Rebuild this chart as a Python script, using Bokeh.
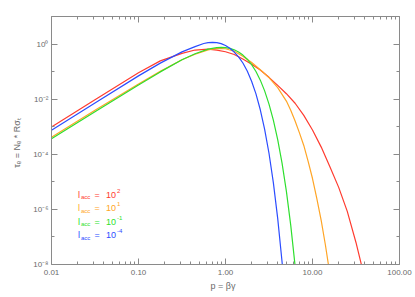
from bokeh.plotting import figure
from bokeh.models import Range1d, FixedTicker, LogAxis, CustomJSTickFormatter, Label
from bokeh.embed import file_html
from bokeh.resources import INLINE

# ---- data ----
p_red = [0.01, 0.0316, 0.1, 0.178, 0.316, 0.447, 0.631, 0.794, 1.0, 1.26, 1.58, 2.0, 2.51,
         3.16, 3.98, 5.01, 6.31, 7.94, 10.0, 12.6, 15.8, 20.0, 25.1, 31.6, 39.8]
tau_red = [9.8e-4, 9.5e-3, 0.091, 0.245, 0.461, 0.607, 0.655, 0.603, 0.525, 0.417, 0.288, 0.186, 0.115,
           0.0620, 0.0315, 0.0158, 7.1e-3, 2.57e-3, 7.6e-4, 1.82e-4, 3.6e-5, 6.3e-6, 8.5e-7, 6.3e-8, 3.2e-9]

p_orange = [0.01, 0.0316, 0.1, 0.178, 0.316, 0.447, 0.631, 0.794, 1.0, 1.26, 1.58, 2.0, 2.51,
            3.16, 3.98, 5.01, 5.62, 6.31, 7.08, 7.94, 8.91, 10.0, 11.2, 12.6, 14.1, 15.8]
tau_orange = [4.17e-4, 3.98e-3, 0.0355, 0.102, 0.269, 0.427, 0.617, 0.700, 0.676, 0.550, 0.363, 0.214, 0.117,
              0.0603, 0.0263, 8.5e-3, 3.98e-3, 1.62e-3, 6.0e-4, 2.09e-4, 5.5e-5, 1.32e-5, 2.5e-6, 3.9e-7, 4.9e-8, 4.7e-9]

p_green = [0.01, 0.0316, 0.1, 0.178, 0.316, 0.447, 0.631, 0.794, 0.891, 1.0, 1.122, 1.259, 1.413, 1.585,
           1.778, 1.995, 2.239, 2.512, 2.818, 3.162, 3.548, 3.981, 4.467, 5.012, 5.623, 6.310, 6.607]
tau_green = [3.63e-4, 3.47e-3, 0.0324, 0.0977, 0.269, 0.447, 0.656, 0.746, 0.760, 0.745, 0.697, 0.618, 0.515, 0.398,
             0.281, 0.179, 0.1005, 0.049, 0.020, 6.6e-3, 1.74e-3, 3.39e-4, 4.8e-5, 4.5e-6, 2.63e-7, 8.9e-9, 1.9e-9]

p_blue = [0.01, 0.0316, 0.1, 0.178, 0.316, 0.447, 0.562, 0.631, 0.708, 0.794, 0.891, 1.0, 1.122, 1.259,
          1.413, 1.585, 1.778, 1.995, 2.239, 2.512, 2.818, 3.162, 3.548, 3.981, 4.467, 4.677]
tau_blue = [7.4e-4, 7.3e-3, 0.070, 0.203, 0.521, 0.804, 1.047, 1.122, 1.148, 1.122, 1.035, 0.891, 0.708, 0.512,
            0.344, 0.205, 0.105, 0.0449, 0.0155, 4.12e-3, 8.05e-4, 1.09e-4, 9.4e-6, 4.7e-7, 1.26e-8, 2.3e-9]

series_colors = ["#ff3b2f", "#ffa526", "#2edf2e", "#2b4cff"]
series_exponents = ["2", "1", "-1", "-4"]

x_ticks = [0.01, 0.1, 1.0, 10.0, 100.0]
x_tick_labels = ["0.01", "0.10", "1.00", "10.00", "100.00"]
x_minor = [0.02, 0.03, 0.04, 0.05, 0.06, 0.07, 0.08, 0.09,
           0.2, 0.3, 0.4, 0.5, 0.6, 0.7, 0.8, 0.9,
           2, 3, 4, 5, 6, 7, 8, 9,
           20, 30, 40, 50, 60, 70, 80, 90]
y_ticks = [1e-8, 1e-6, 1e-4, 1e-2, 1.0]
y_tick_labels = ["10\u207b\u2078", "10\u207b\u2076", "10\u207b\u2074", "10\u207b\u00b2", "10\u2070"]
y_minor = [1e-7, 1e-5, 1e-3, 1e-1, 10.0]

FONT = "Liberation Sans"
AX = "#8a8a8a"
TXT = "#6a6a6a"

p = figure(width=415, height=297, x_axis_type="log", y_axis_type="log",
           x_range=Range1d(0.01, 100), y_range=Range1d(1e-8, 10),
           output_backend="svg", toolbar_location=None,
           min_border_left=51, min_border_right=16, min_border_top=16, min_border_bottom=33)
p.grid.visible = False
p.outline_line_color = None
p.background_fill_color = "white"
p.border_fill_color = "white"

lookup = """
const i = tvals.findIndex(t => Math.abs(Math.log10(t) - Math.log10(tick)) < 1e-6);
return i >= 0 ? tlabels[i] : '';
"""
xt = FixedTicker(ticks=x_ticks, minor_ticks=x_minor)
yt = FixedTicker(ticks=y_ticks, minor_ticks=y_minor)
xfmt = CustomJSTickFormatter(args=dict(tvals=x_ticks, tlabels=x_tick_labels), code=lookup)
yfmt = CustomJSTickFormatter(args=dict(tvals=y_ticks, tlabels=y_tick_labels), code=lookup)
blank = CustomJSTickFormatter(code="return '';")


def style(ax):
    ax.axis_line_color = AX
    ax.major_tick_line_color = AX
    ax.minor_tick_line_color = AX
    ax.major_tick_in = 6
    ax.major_tick_out = 0
    ax.minor_tick_in = 3
    ax.minor_tick_out = 0
    ax.major_label_text_font = FONT
    ax.major_label_text_font_size = "8px"
    ax.major_label_text_color = TXT


p.xaxis.ticker = xt
p.xaxis.formatter = xfmt
p.yaxis.ticker = yt
p.yaxis.formatter = yfmt
style(p.xaxis[0])
style(p.yaxis[0])
p.xaxis.major_label_standoff = 5
p.yaxis.major_label_standoff = 3
p.xaxis.axis_label = "p  =  \u03b2\u03b3"
p.xaxis.axis_label_text_font = FONT
p.xaxis.axis_label_text_font_size = "9px"
p.xaxis.axis_label_text_font_style = "normal"
p.xaxis.axis_label_text_color = TXT
p.xaxis.axis_label_standoff = 3
p.yaxis.axis_label = "\u03c4\u2091  =  N\u2091 * R\u03c3\u209c"
p.yaxis.axis_label_text_font = FONT
p.yaxis.axis_label_text_font_size = "9px"
p.yaxis.axis_label_text_font_style = "normal"
p.yaxis.axis_label_text_color = TXT
p.yaxis.axis_label_standoff = 8

top = LogAxis(ticker=xt, formatter=blank)
right = LogAxis(ticker=yt, formatter=blank)
style(top)
style(right)
top.major_label_standoff = 0
right.major_label_standoff = 0
p.add_layout(top, "above")
p.add_layout(right, "right")

for xs, ys, c in [(p_red, tau_red, series_colors[0]), (p_orange, tau_orange, series_colors[1]),
                  (p_green, tau_green, series_colors[2]), (p_blue, tau_blue, series_colors[3])]:
    p.line(xs, ys, line_color=c, line_width=1.2)

# legend text rows (screen units, relative to the frame)
row_base = 70
row_step = 13.5
for i, (c, e) in enumerate(zip(series_colors, series_exponents)):
    yb = row_base - i * row_step
    p.add_layout(Label(x=26.5, y=yb, x_units="screen", y_units="screen", text="l",
                       text_font=FONT, text_font_size="9px", text_color=c, text_baseline="alphabetic"))
    p.add_layout(Label(x=29.5, y=yb - 2.5, x_units="screen", y_units="screen", text="acc",
                       text_font=FONT, text_font_size="6px", text_color=c, text_baseline="alphabetic"))
    p.add_layout(Label(x=43, y=yb, x_units="screen", y_units="screen", text="=",
                       text_font=FONT, text_font_size="9px", text_color=c, text_baseline="alphabetic"))
    p.add_layout(Label(x=54.5, y=yb, x_units="screen", y_units="screen", text="10",
                       text_font=FONT, text_font_size="9px", text_color=c, text_baseline="alphabetic"))
    p.add_layout(Label(x=65.5, y=yb + 4, x_units="screen", y_units="screen", text=e,
                       text_font=FONT, text_font_size="6px", text_color=c, text_baseline="alphabetic"))

open("out.html", "w").write(file_html(p, INLINE))
